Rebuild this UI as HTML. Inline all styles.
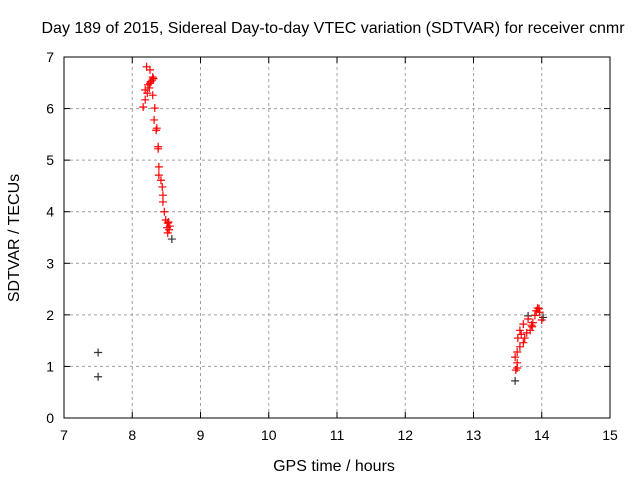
<!DOCTYPE html>
<html><head><meta charset="utf-8"><style>
body{margin:0;background:#fff}
svg{display:block;font-family:"Liberation Sans",sans-serif}
</style></head><body>
<svg id="chart" width="640" height="480">
<rect width="640" height="480" fill="#fff"/>
<text x="333" y="33" font-size="16" text-anchor="middle">Day 189 of 2015, Sidereal Day-to-day VTEC variation (SDTVAR) for receiver cnmr</text>
<text x="334" y="471" font-size="16" text-anchor="middle">GPS time / hours</text>
<text transform="translate(19,238) rotate(-90)" font-size="16" text-anchor="middle">SDTVAR / TECUs</text>
<g id="grid"></g><g id="ticks"></g>
<rect x="64" y="57" width="546" height="361" fill="none" stroke="#000"/>
<g id="marks"></g>
</svg>
<script>
const xTicks=[7,8,9,10,11,12,13,14,15];
const yTicks=[0,1,2,3,4,5,6,7];
const redX=[8.21,8.26,8.30,8.29,8.26,8.23,8.19,8.22,8.30,8.19,8.16,8.33,8.32,8.36,8.35,8.38,8.38,8.39,8.39,8.42,8.44,8.45,8.45,8.47,8.49,8.52,8.51,8.54,8.52,8.55,8.53,8.27,8.31,8.25,
13.94,13.97,13.90,14.00,13.87,13.80,13.86,13.73,13.83,13.68,13.78,13.65,13.75,13.73,13.68,13.64,13.61,13.64,13.64,13.62,13.92,13.96,13.70,13.85];
const redY=[6.81,6.75,6.61,6.55,6.49,6.46,6.36,6.30,6.26,6.17,6.03,6.01,5.78,5.62,5.58,5.26,5.22,4.87,4.71,4.61,4.48,4.32,4.19,4.00,3.84,3.78,3.69,3.65,3.59,3.72,3.80,6.52,6.58,6.40,
2.13,2.05,1.99,1.90,1.85,1.92,1.77,1.82,1.70,1.70,1.65,1.55,1.55,1.46,1.38,1.28,1.18,1.07,0.97,0.93,2.08,2.12,1.62,1.80];
const blackX=[7.5,7.5,8.58,13.61,13.80,14.02];
const blackY=[1.27,0.80,3.47,0.72,1.98,1.95];
const X0=64,X1=610,Y0=418,Y1=57;
const sx=v=>X0+(v-7)/(15-7)*(X1-X0);
const sy=v=>Y0-(v-0)/(7-0)*(Y0-Y1);
const NS="http://www.w3.org/2000/svg";
const grid=document.getElementById('grid'),ticks=document.getElementById('ticks'),marks=document.getElementById('marks');
function mk(t,a,p){const e=document.createElementNS(NS,t);for(const k in a)e.setAttribute(k,a[k]);p.appendChild(e);return e;}
xTicks.forEach(t=>{const x=sx(t);
 if(t>7&&t<15){const g=mk('line',{x1:x,x2:x,y1:Y0,y2:Y1,stroke:'#a0a0a0','stroke-dasharray':'3,3'},grid);
 
 }
 mk('line',{x1:x,x2:x,y1:Y0,y2:Y0-6,stroke:'#000'},ticks);
 mk('line',{x1:x,x2:x,y1:Y1,y2:Y1+6,stroke:'#000'},ticks);
 const l=mk('text',{x:x,y:Y0+22,'font-size':14,'text-anchor':'middle'},ticks);l.textContent=t;
 
 });
yTicks.forEach(t=>{const y=sy(t);
 if(t>0&&t<7){const g=mk('line',{x1:X0,x2:X1,y1:y,y2:y,stroke:'#a0a0a0','stroke-dasharray':'3,3'},grid);
 
 }
 mk('line',{x1:X0,x2:X0+6,y1:y,y2:y,stroke:'#000'},ticks);
 mk('line',{x1:X1,x2:X1-6,y1:y,y2:y,stroke:'#000'},ticks);
 const l=mk('text',{x:X0-10,y:y+5,'font-size':14,'text-anchor':'end'},ticks);l.textContent=t;
 
 });
function plus(x,y,c,name){const p=mk('path',{d:`M${x-4},${y}h8M${x},${y-4}v8`,stroke:c,'stroke-width':1.2},marks);
 
 }
blackX.forEach((v,i)=>plus(sx(v),sy(blackY[i]),'#333','data-point-dark'));
redX.forEach((v,i)=>plus(sx(v),sy(redY[i]),'#f00','data-point'));
</script>
</body></html>
